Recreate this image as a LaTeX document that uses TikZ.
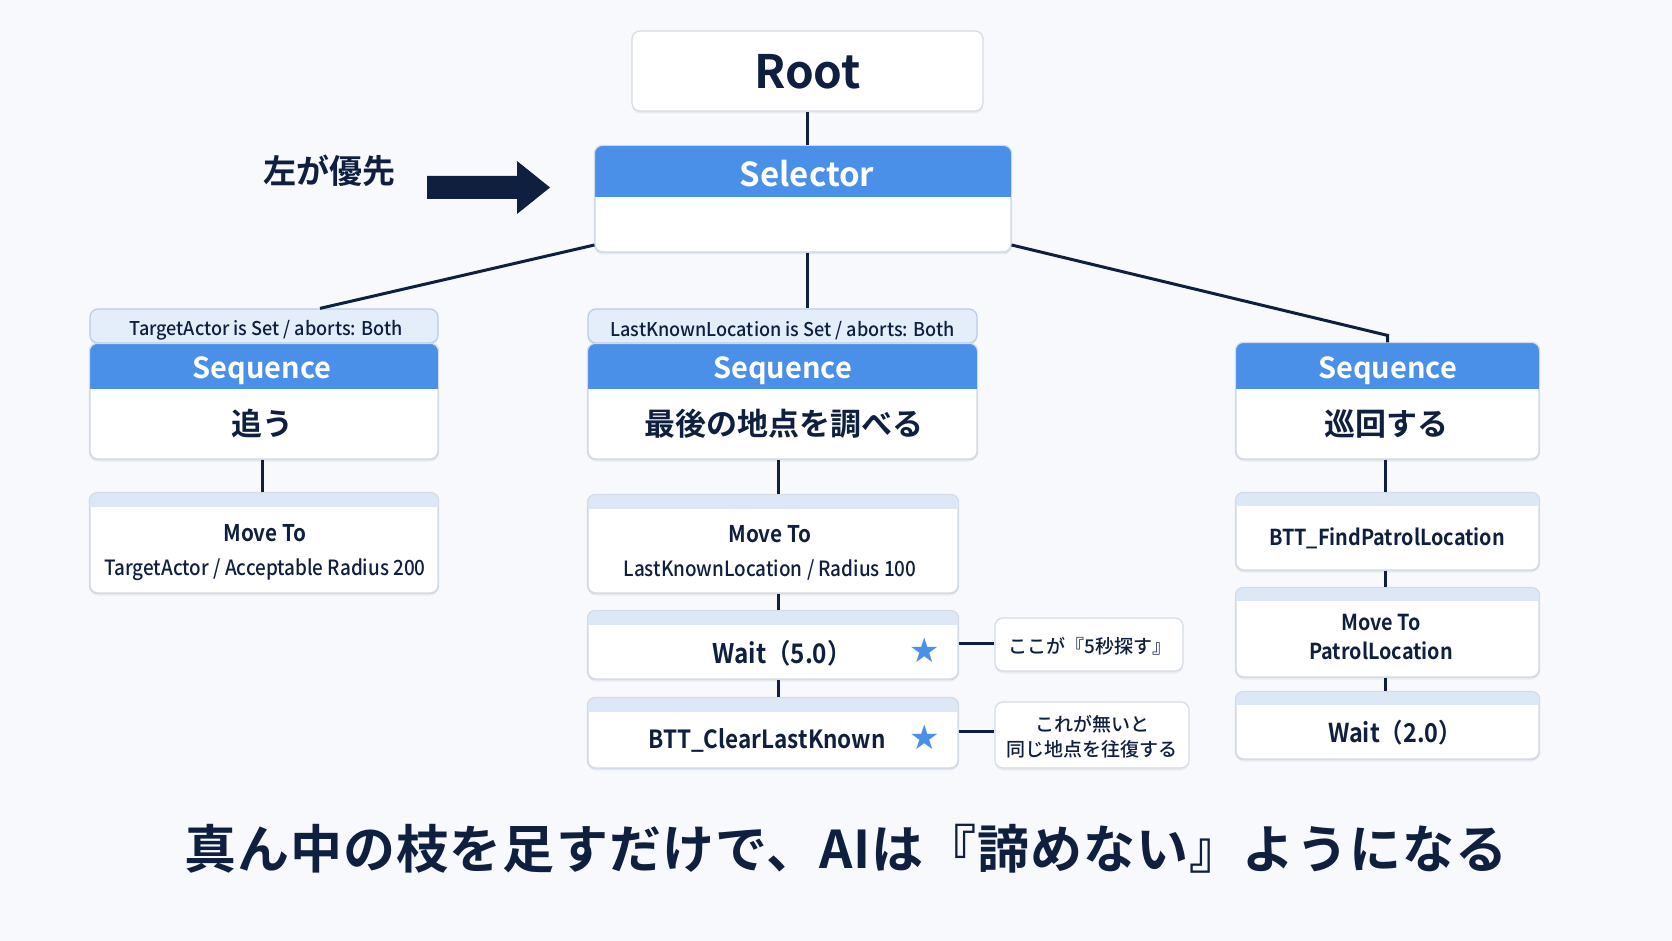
\documentclass[tikz,border=0pt]{standalone}
\usepackage{fontspec}
\setmainfont{Noto Sans CJK JP}[BoldFont={Noto Sans CJK JP Bold}]
\newfontfamily\medfont{Noto Sans CJK JP Medium}
\newfontfamily\medc{Noto Sans CJK JP Medium}[FakeStretch=0.9]
\newfontfamily\medcc{Noto Sans CJK JP Medium}[FakeStretch=0.95]
\newfontfamily\boldc{Noto Sans CJK JP Bold}[FakeStretch=0.9]
\newfontfamily\capfont{Noto Sans CJK JP Bold}[LetterSpace=2]
\newfontfamily\symfont{DejaVu Sans}
\usetikzlibrary{shadows,calc}
\definecolor{bg}{HTML}{F7F9FC}
\definecolor{navy}{HTML}{0F1F3F}
\definecolor{hblue}{HTML}{4A8FE8}
\definecolor{stripc}{HTML}{DDE8F7}
\definecolor{condc}{HTML}{E4EDFA}
\definecolor{bord}{HTML}{D3DBE6}
\definecolor{starc}{HTML}{4A8FE8}
\tikzset{
 box/.style={rectangle, rounded corners=8pt, fill=white, draw=bord, line width=1.2pt, inner sep=0pt,
   drop shadow={opacity=0.10, shadow xshift=0pt, shadow yshift=-2.5pt}},
 condbox/.style={box, fill=condc, draw=bord!80!hblue},
 wire/.style={draw=navy, line width=3pt},
 txt/.style={text=navy, inner sep=0pt, align=center},
 hdrtxt/.style={text=white, inner sep=0pt, font=\bfseries\fontsize{29}{34}\selectfont},
 jptxt/.style={txt, font=\bfseries\fontsize{31}{34}\selectfont},
 condtxt/.style={txt, font=\medcc\fontsize{19}{22}\selectfont},
 leaftxt/.style={txt, font=\medc\fontsize{21}{34}\selectfont},
 bigleaf/.style={txt, font=\boldc\fontsize{25}{30}\selectfont},
 notetxt/.style={txt, font=\medfont\fontsize{19}{25}\selectfont},
 startxt/.style={text=starc, inner sep=0pt, font=\symfont\fontsize{34}{36}\selectfont},
}
\newcommand\topfill[3]{%
 \begin{scope}
  \clip ($(#1.north west)+(-2,-2)$) rectangle ($(#1.north east)+(2,#2)$);
  \fill[#3, rounded corners=8pt] (#1.north west) rectangle (#1.south east);
 \end{scope}
 \draw[bord, line width=1.2pt, rounded corners=8pt] (#1.north west) rectangle (#1.south east);}
\begin{document}
\begin{tikzpicture}[x=1pt,y=-1pt]
\fill[bg] (0,0) rectangle (1672,941);
\useasboundingbox (0,0) rectangle (1672,941);

% boxes
\node[box, minimum width=351pt, minimum height=80pt] (root) at (807.5,71) {};
\node[box, minimum width=416pt, minimum height=106pt] (sel) at (803,199) {};
\topfill{sel}{51}{hblue}

\node[condbox, minimum width=348pt, minimum height=34pt] (condL) at (264,326) {};
\node[box, minimum width=348pt, minimum height=115pt] (seqL) at (264,401.5) {};
\topfill{seqL}{45}{hblue}
\node[box, minimum width=348pt, minimum height=100pt] (mvL) at (264,543) {};
\topfill{mvL}{14}{stripc}

\node[condbox, minimum width=389pt, minimum height=34pt] (condM) at (782.5,326) {};
\node[box, minimum width=389pt, minimum height=115pt] (seqM) at (782.5,401.5) {};
\topfill{seqM}{45}{hblue}
\node[box, minimum width=370pt, minimum height=98pt] (mvM) at (773,544) {};
\topfill{mvM}{14}{stripc}
\node[box, minimum width=370pt, minimum height=68pt] (waitM) at (773,645) {};
\topfill{waitM}{14}{stripc}
\node[box, minimum width=370pt, minimum height=70pt] (clrM) at (773,733) {};
\topfill{clrM}{14}{stripc}
\node[box, minimum width=188pt, minimum height=53pt] (note1) at (1089,644.5) {};
\node[box, minimum width=194pt, minimum height=66pt] (note2) at (1092,735) {};

\node[box, minimum width=303pt, minimum height=116pt] (seqR) at (1387.5,401) {};
\topfill{seqR}{46}{hblue}
\node[box, minimum width=303pt, minimum height=77pt] (findR) at (1387.5,531.5) {};
\topfill{findR}{13}{stripc}
\node[box, minimum width=303pt, minimum height=89pt] (mvR) at (1387.5,632.5) {};
\topfill{mvR}{13}{stripc}
\node[box, minimum width=303pt, minimum height=67pt] (waitR) at (1387.5,725.5) {};
\topfill{waitR}{13}{stripc}

% connectors
\draw[wire] (root.south) -- (root.south |- sel.north);
\draw[wire] ([yshift=-46pt]sel.west) -- ([xshift=56pt]condL.north);
\draw[wire] ([xshift=4.5pt]sel.south) -- ([xshift=25pt]condM.north);
\draw[wire] ([yshift=-46pt]sel.east) -- ([yshift=7pt]seqR.north) -- (seqR.north);
\draw[wire] ([xshift=-2pt]seqL.south) -- ([xshift=-2pt]mvL.north);
\draw[wire] ([xshift=-4.5pt]seqM.south) -- ([xshift=5pt]mvM.north);
\draw[wire] ([xshift=5pt]mvM.south) -- ([xshift=5pt]waitM.north);
\draw[wire] ([xshift=5pt]waitM.south) -- ([xshift=5pt]clrM.north);
\draw[wire] ([yshift=2pt]waitM.east) -- ([yshift=2pt]waitM.east -| note1.west);
\draw[wire] ([yshift=2pt]clrM.east) -- ([yshift=2pt]clrM.east -| note2.west);
\draw[wire] ([xshift=-2pt]seqR.south) -- ([xshift=-2pt]findR.north);
\draw[wire] ([xshift=-2pt]findR.south) -- ([xshift=-2pt]mvR.north);
\draw[wire] ([xshift=-2pt]mvR.south) -- ([xshift=-2pt]waitR.north);

% priority arrow
\node[txt, font=\bfseries\fontsize{33}{36}\selectfont] (prio) at (329,171) {左が優先};
\fill[navy] (427,176) -- (517,176) -- (517,161) -- (550,187.5) -- (517,214) -- (517,199) -- (427,199) -- cycle;

% texts
\node[txt, font=\bfseries\fontsize{46}{50}\selectfont] (rootT) at (807.5,72) {Root};
\node[hdrtxt, font=\bfseries\fontsize{33}{38}\selectfont] (selT) at (807,174) {Selector};

\node[condtxt] (condLT) at (266,330) {TargetActor is Set / aborts: Both};
\node[hdrtxt] (seqLH) at (262,371) {Sequence};
\node[jptxt] (seqLT) at (262,424) {追う};
\node[leaftxt] (mvLT) at (265,553) {{\boldc\fontsize{23}{34}\selectfont Move To}\\TargetActor / Acceptable Radius 200};

\node[condtxt] (condMT) at (782.5,331) {LastKnownLocation is Set / aborts: Both};
\node[hdrtxt] (seqMH) at (782.5,371) {Sequence};
\node[jptxt] (seqMT) at (784,424) {最後の地点を調べる};
\node[leaftxt] (mvMT) at (770,553) {{\boldc\fontsize{23}{34}\selectfont Move To}\\LastKnownLocation / Radius 100};
\node[bigleaf, font=\boldc\fontsize{27}{30}\selectfont] (waitMT) at (782,653) {Wait（5.0）};
\node[startxt] (star1) at (925,650) {★};
\node[bigleaf] (clrMT) at (767,740) {BTT\_ClearLastKnown};
\node[startxt] (star2) at (925,737) {★};
\node[notetxt] (note1T) at (1090,646) {ここが『5秒探す』};
\node[notetxt] (note2T) at (1092,737) {これが無いと\\同じ地点を往復する};

\node[hdrtxt] (seqRH) at (1387.5,371) {Sequence};
\node[jptxt] (seqRT) at (1386,424) {巡回する};
\node[txt, font=\boldc\fontsize{22}{26}\selectfont] (findRT) at (1387,538) {BTT\_FindPatrolLocation};
\node[txt, font=\boldc\fontsize{22}{29}\selectfont] (mvRT) at (1381,637) {Move To\\PatrolLocation};
\node[bigleaf, font=\boldc\fontsize{26}{30}\selectfont] (waitRT) at (1395,733) {Wait（2.0）};

% bottom caption
\node[txt, font=\capfont\fontsize{52}{56}\selectfont] (caption) at (846,849) {真ん中の枝を足すだけで、AIは『諦めない』ようになる};
\end{tikzpicture}
\end{document}
